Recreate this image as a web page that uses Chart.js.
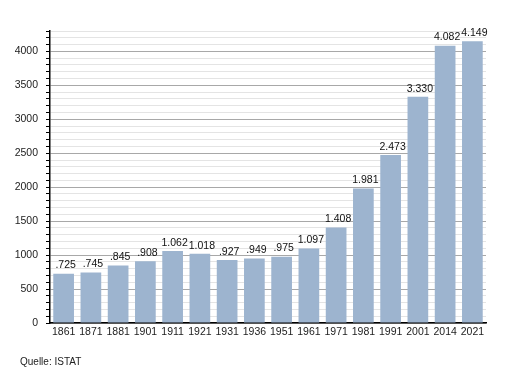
<!DOCTYPE html>
<html>
<head>
<meta charset="utf-8">
<script src="https://cdn.jsdelivr.net/npm/chart.js@4"></script>
<style>
  html, body { margin: 0; padding: 0; background: #fff; }
  #wrap { position: relative; width: 515px; height: 373px; }
  #source { position: absolute; left: 20px; top: 356px; font: 10px "Liberation Sans", Arial, sans-serif; color: #222; }
</style>
</head>
<body>
<div id="wrap">
  <canvas id="popChart" width="515" height="373"></canvas>
  <div id="source">Quelle: ISTAT</div>
</div>
<script>
const years = ['1861', '1871', '1881', '1901', '1911', '1921', '1931', '1936', '1951', '1961', '1971', '1981', '1991', '2001', '2014', '2021'];
const population = [725, 745, 845, 908, 1062, 1018, 927, 949, 975, 1097, 1408, 1981, 2473, 3330, 4082, 4149];
const yMax = 4300;
const majorStep = 500;
const minorStep = 100;

// german style labels as in the original (".725", "1.062")
function fmt(n) {
  const s = String(n);
  if (n < 1000) return '.' + s;
  return s.slice(0, s.length - 3) + '.' + s.slice(-3);
}

const barLabels = {
  id: 'barLabels',
  afterDatasetsDraw(chart) {
    const ctx = chart.ctx;
    const meta = chart.getDatasetMeta(0);
    ctx.save();
    ctx.font = '10.5px "Liberation Sans", Arial, sans-serif';
    ctx.fillStyle = '#111';
    ctx.textAlign = 'center';
    ctx.textBaseline = 'bottom';
    meta.data.forEach((bar, i) => {
      ctx.fillText(fmt(population[i]), bar.x + 2, bar.y - 3);
    });
    ctx.restore();
  }
};

new Chart(document.getElementById('popChart'), {
  type: 'bar',
  data: {
    labels: years,
    datasets: [{
      data: population,
      backgroundColor: '#9db4cf',
      borderWidth: 0,
      categoryPercentage: 1,
      barPercentage: 0.76
    }]
  },
  options: {
    responsive: false,
    animation: false,
    layout: { padding: { top: 31, right: 29, left: 0, bottom: 0 } },
    plugins: {
      legend: { display: false },
      tooltip: { enabled: false }
    },
    scales: {
      x: {
        grid: { display: false, drawTicks: false },
        border: { display: true, color: '#000', width: 1.5 },
        ticks: {
          color: '#222',
          padding: 3,
          maxRotation: 0,
          autoSkip: false,
          font: { family: '"Liberation Sans", Arial, sans-serif', size: 10.5 }
        },
        afterFit(scale) { scale.height = 50; }
      },
      y: {
        min: 0,
        max: yMax,
        border: { display: true, color: '#000', width: 1.5 },
        grid: {
          color: c => (c.tick && c.tick.value % majorStep === 0) ? '#a8a8a8' : '#e4e4e4',
          tickColor: '#000',
          tickLength: 4
        },
        ticks: {
          stepSize: minorStep,
          maxTicksLimit: 100,
          autoSkip: false,
          padding: 8,
          color: '#222',
          font: { family: '"Liberation Sans", Arial, sans-serif', size: 10.5 },
          callback: v => (v % majorStep === 0 ? String(v) : '')
        },
        afterFit(scale) { scale.width = 50; }
      }
    }
  },
  plugins: [barLabels]
});
</script>
</body>
</html>
